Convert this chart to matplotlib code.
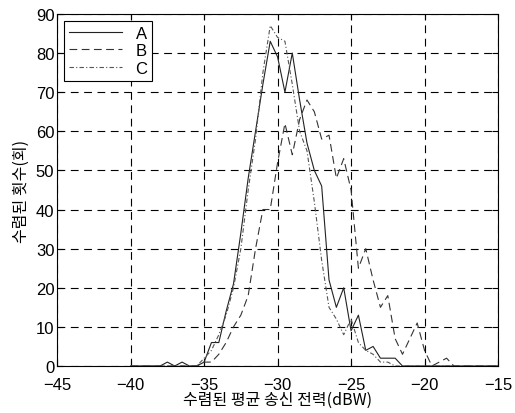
import numpy as np
import matplotlib as mpl
mpl.use('Agg')
import matplotlib.pyplot as plt

plt.rcParams['font.family'] = ['Liberation Sans', 'Noto Sans CJK KR', 'DejaVu Sans']

# x grid (dBW)
power = np.arange(-40, -14.5, 0.5)

series_a = [0, 0, 0, 0, 0, 1, 0, 1, 0, 0,
            1, 6, 6, 14, 21, 34, 48, 60, 72, 83,
            79, 70, 80, 68, 57, 50, 46, 22, 15, 20,
            9, 13, 4, 5, 2, 2, 2, 0, 0, 0,
            0, 0, 0, 0, 0, 0, 0, 0, 0, 0, 0]
series_b = [0, 0, 0, 0, 0, 0, 0, 0, 0, 0,
            1, 1, 3, 6, 10, 13, 18, 30, 40, 40,
            52, 62, 54, 63, 68, 65, 58, 59, 48, 53,
            45, 25, 30, 22, 15, 18, 7, 3, 7, 11,
            4, 0, 1, 2, 0, 0, 0, 0, 0, 0, 0]
series_c = [0, 0, 0, 0, 0, 0, 0, 0, 0, 0,
            2, 4, 8, 13, 20, 30, 45, 58, 75, 87,
            84, 83, 72, 60, 55, 42, 27, 15, 12, 8,
            12, 6, 4, 3, 1, 1, 0, 0, 0, 0,
            0, 0, 0, 0, 0, 0, 0, 0, 0, 0, 0]
labels = ['A', 'B', 'C']

fig = plt.figure(figsize=(5.15, 4.14), dpi=100)
ax = fig.add_axes([0.111, 0.1135, 0.856, 0.8505])

ax.plot(power, series_a, color='#222222', lw=0.8, ls='-', label=labels[0])
ax.plot(power, series_b, color='#333333', lw=0.8, ls=(0, (7, 4)), label=labels[1])
ax.plot(power, series_c, color='#555555', lw=0.8, ls=(0, (4, 2, 1, 2)), label=labels[2])

ax.set_xlim(-45, -15)
ax.set_ylim(0, 90)
ax.set_xticks(np.arange(-45, -14, 5))
ax.set_yticks(np.arange(0, 91, 10))
ax.set_xticklabels(['\u221245', '\u221240', '\u221235', '\u221230', '\u221225', '\u221220', '\u221215'])
ax.grid(True, color='black', ls=(0, (7, 5)), lw=0.8)
ax.tick_params(direction='in', top=True, right=True, labelsize=12, length=4)
ax.tick_params(axis='x', pad=8)
ax.tick_params(axis='y', pad=2)
for s in ax.spines.values():
    s.set_linewidth(0.8)

ax.set_xlabel('수렴된 평균 송신 전력(dBW)', fontsize=11.5, family=['Noto Sans CJK KR'], labelpad=-1)
ax.set_ylabel('수렴된 횟수(회)', fontsize=11.5, family=['Noto Sans CJK KR'], labelpad=4)

leg = ax.legend(loc='upper left', fontsize=12, frameon=True, fancybox=False,
                edgecolor='black', framealpha=1, handlelength=3.2,
                borderaxespad=0.4, labelspacing=0.15, borderpad=0.3)
leg.get_frame().set_linewidth(0.8)

fig.savefig('out.png', dpi=100)
